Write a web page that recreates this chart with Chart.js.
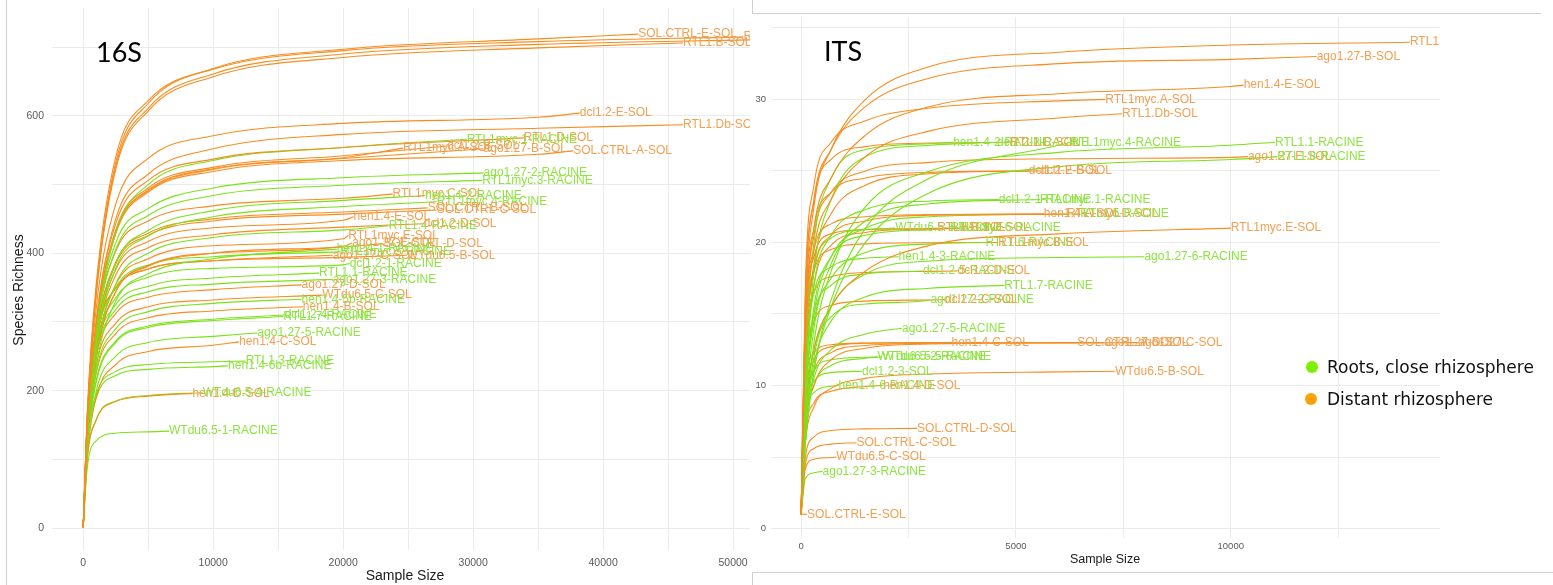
<!DOCTYPE html>
<html>
<head>
<meta charset="utf-8">
<script src="https://cdn.jsdelivr.net/npm/chart.js@4/dist/chart.umd.min.js"></script>
<style>
  body { margin: 0; background: #fff; width: 1553px; height: 585px; overflow: hidden; position: relative;
         font-family: "Liberation Sans", Arial, sans-serif; }
  canvas { position: absolute; top: 0; }
  #c16 { left: 0; }
  #cits { left: 752px; }
  .t { position: absolute; white-space: nowrap; color: #1a1a1a; }
  .panel-title { font-family: Lato, "Open Sans", sans-serif; font-size: 27px; color: #000; }
  .dot { position: absolute; width: 12px; height: 12px; border-radius: 50%; }
  .legend { font-family: "DejaVu Sans", sans-serif; font-size: 17px; color: #111; }
  .frame { position: absolute; border: 0 solid #cfcfcf; }
</style>
</head>
<body>
<canvas id="c16" width="750" height="585"></canvas>
<canvas id="cits" width="801" height="585"></canvas>

<div class="frame" style="left:6px;top:0;width:0;height:585px;border-left-width:1px"></div>
<div class="frame" style="left:752px;top:-1px;width:788px;height:14px;border-left-width:1px;border-bottom-width:1px"></div>
<div class="frame" style="left:752px;top:572px;width:801px;height:20px;border-left-width:1px;border-top-width:1px"></div>

<div class="t panel-title" style="left:96px;top:35px">16S</div>
<div class="t panel-title" style="left:824px;top:34px">ITS</div>

<div class="t" style="left:405px;top:575px;font-size:14px;transform:translate(-50%,-50%)">Sample Size</div>
<div class="t" style="left:18px;top:290px;font-size:14px;transform:translate(-50%,-50%) rotate(-90deg)">Species Richness</div>
<div class="t" style="left:1105px;top:559px;font-size:12.5px;transform:translate(-50%,-50%)">Sample Size</div>

<div class="dot" style="left:1306px;top:361px;background:#7cf000"></div>
<div class="t legend" style="left:1327px;top:367px;transform:translateY(-50%)">Roots, close rhizosphere</div>
<div class="dot" style="left:1305px;top:393px;background:#ffa200"></div>
<div class="t legend" style="left:1327px;top:399px;transform:translateY(-50%)">Distant rhizosphere</div>

<script>
// ---- 16S rarefaction curves ----
// richness values are read at these sample sizes, the last value of each row is at the sample's own depth
const grid16 = [1, 300, 1000, 2500, 5000, 10000, 20000, 35000];
const names16 = [
  "SOL.CTRL-E-SOL", "RTL1.C-SOL", "RTL1.B-SOL", "RTL1.A-SOL", "dcl1.2-E-SOL", "RTL1.Db-SOL",
  "RTL1.D-SOL", "RTL1myc.1-RACINE", "RTL1myc.A-SOL", "dcl1.2-B-SOL", "ago1.27-B-SOL", "SOL.CTRL-A-SOL",
  "ago1.27-2-RACINE", "RTL1myc.3-RACINE", "RTL1myc.C-SOL", "hen1.4-2-RACINE", "RTL1myc.4-RACINE",
  "SOL.CTRL-C-SOL", "SOL.CTRL-B-SOL", "hen1.4-E-SOL", "RTL1.4-RACINE", "dcl1.2-D-SOL", "RTL1myc.E-SOL",
  "SOL.CTRL-D-SOL", "ago1.27-E-SOL", "hen1.4-1-RACINE", "RTL1myc.5-RACINE", "ago1.27-C-SOL",
  "WTdu6.5-B-SOL", "dcl1.2-1-RACINE", "RTL1.1-RACINE", "ago1.27-3-RACINE", "ago1.27-D-SOL",
  "WTdu6.5-C-SOL", "hen1.4-5b-RACINE", "hen1.4-B-SOL", "RTL1.7-RACINE", "dcl1.2-4-RACINE",
  "ago1.27-5-RACINE", "hen1.4-C-SOL", "RTL1.3-RACINE", "hen1.4-6b-RACINE", "hen1.4-D-SOL",
  "WTdu6.5-4-RACINE", "WTdu6.5-1-RACINE"
];
const group16 = [
  "S", "S", "S", "S", "S", "S",
  "S", "R", "S", "S", "S", "S",
  "R", "R", "S", "R", "R",
  "S", "S", "S", "R", "S", "S",
  "S", "S", "R", "R", "S",
  "S", "R", "R", "R", "S",
  "S", "R", "S", "R", "R",
  "R", "S", "R", "R", "S",
  "R", "R"
];
const depth16 = [
  42700, 50800, 46150, 52500, 38200, 46150,
  33900, 29500, 24600, 28000, 30800, 37700,
  30800, 30700, 23800, 26300, 27200,
  27200, 26500, 20800, 23500, 26200, 20400,
  23100, 20700, 19500, 19800, 19200,
  24900, 20500, 18150, 19200, 16800,
  18400, 16800, 16900, 15400, 15500,
  13400, 12000, 12500, 11150, 8400,
  9200, 6600
];
const rich16 = [
  [1, 158, 345, 532, 618, 669, 697, 712, 719],
  [1, 165, 355, 540, 622, 668, 695, 708, 715],
  [1, 155, 339, 522, 607, 657, 685, 699, 706],
  [1, 156, 341, 526, 611, 661, 690, 704, 711],
  [1, 151, 320, 471, 538, 571, 589, 598, 604],
  [1, 140, 300, 450, 515, 552, 573, 582, 587],
  [1, 142, 301, 443, 506, 537, 554, 568],
  [1, 130, 285, 430, 500, 535, 554, 566],
  [1, 138, 293, 431, 492, 523, 539, 553],
  [1, 139, 295, 434, 495, 525, 542, 556],
  [1, 138, 293, 431, 491, 522, 538, 552],
  [1, 137, 291, 428, 489, 519, 535, 544, 549],
  [1, 140, 290, 415, 465, 495, 510, 517],
  [1, 135, 282, 405, 455, 484, 499, 506],
  [1, 146, 292, 403, 447, 469, 480, 486],
  [1, 130, 270, 385, 433, 462, 477, 484],
  [1, 128, 265, 378, 425, 453, 468, 475],
  [1, 139, 278, 384, 426, 447, 457, 463],
  [1, 140, 280, 387, 429, 450, 460, 466],
  [1, 136, 272, 376, 417, 437, 448, 453],
  [1, 120, 250, 355, 400, 423, 434, 440],
  [1, 133, 266, 368, 408, 427, 438, 443],
  [1, 128, 256, 354, 392, 411, 421, 426],
  [1, 124, 248, 344, 381, 400, 409, 414],
  [1, 125, 249, 344, 382, 400, 410, 415],
  [1, 115, 235, 330, 370, 392, 406],
  [1, 140, 270, 350, 383, 395, 402],
  [1, 151, 278, 349, 377, 389, 397],
  [1, 151, 278, 349, 377, 389, 394, 397],
  [1, 135, 262, 335, 365, 378, 383, 385],
  [1, 130, 255, 325, 352, 364, 371],
  [1, 128, 250, 318, 344, 355, 362],
  [1, 135, 248, 312, 336, 347, 354],
  [1, 129, 237, 298, 322, 332, 339],
  [1, 120, 228, 290, 315, 327, 333],
  [1, 122, 225, 283, 306, 316, 322],
  [1, 115, 212, 270, 292, 302, 308],
  [1, 118, 215, 272, 294, 304, 310],
  [1, 108, 199, 250, 270, 279, 284],
  [1, 103, 190, 238, 257, 266, 271],
  [1, 122, 194, 228, 238, 242, 243],
  [1, 118, 189, 222, 231, 235, 236],
  [1, 98, 157, 184, 192, 196],
  [1, 99, 158, 185, 193, 197],
  [1, 85, 127, 138, 140, 141]
];
const xGrid16 = [0, 5000, 10000, 15000, 20000, 25000, 30000, 35000, 40000, 45000, 50000];
const xTicks16 = [0, 10000, 20000, 30000, 40000, 50000];
const yGrid16 = [0, 100, 200, 300, 400, 500, 600, 700];
const yTicks16 = [0, 200, 400, 600];

// ---- ITS rarefaction curves ----
const gridITS = [1, 100, 300, 700, 1500, 3000, 6000, 10000];
const namesITS = [
  "RTL1.A-SOL", "ago1.27-B-SOL", "hen1.4-E-SOL", "RTL1myc.A-SOL", "RTL1.Db-SOL",
  "RTL1.1-RACINE", "hen1.4-2-RACINE", "dcl1.2-2-RACINE", "RTL1.C-SOL", "RTL1myc.4-RACINE",
  "ago1.27-E-SOL", "RTL1.8-RACINE", "dcl1.2-E-SOL", "dcl1.2-B-SOL", "dcl1.2-1-RACINE",
  "RTL1myc.1-RACINE", "hen1.4-A-SOL", "RTL1myc.D-SOL", "RTL1.5-RACINE", "RTL1myc.E-SOL",
  "WTdu6.5-3-RACINE", "RTL1.E-SOL", "RTL1.D-SOL", "RTL1myc.6-RACINE", "RTL1.6-RACINE",
  "RTL1myc.B-SOL", "hen1.4-3-RACINE", "ago1.27-6-RACINE", "dcl1.2-5-RACINE", "dcl1.2-D-SOL",
  "RTL1.7-RACINE", "ago1.27-2-RACINE", "dcl1.2-C-SOL", "ago1.27-5-RACINE", "hen1.4-C-SOL",
  "SOL.CTRL-A-SOL", "ago1.27-D-SOL", "ago1.27-C-SOL", "WTdu6.5-2-RACINE", "WTdu6.5-5-RACINE",
  "dcl1.2-3-SOL", "WTdu6.5-B-SOL", "hen1.4-6-RACINE", "hen1.4-D-SOL", "SOL.CTRL-D-SOL",
  "SOL.CTRL-C-SOL", "WTdu6.5-C-SOL", "ago1.27-3-RACINE", "SOL.CTRL-E-SOL"
];
const groupITS = [
  "S", "S", "S", "S", "S",
  "R", "R", "R", "S", "R",
  "S", "R", "S", "S", "R",
  "R", "S", "S", "R", "S",
  "R", "S", "S", "R", "R",
  "S", "R", "R", "R", "S",
  "R", "R", "S", "R", "S",
  "S", "S", "S", "R", "R",
  "R", "S", "R", "S", "S",
  "S", "S", "R", "S"
];
const depthITS = [
  14170, 12000, 10300, 7080, 7470,
  11030, 3540, 4560, 4870, 6270,
  10400, 11080, 5300, 5560, 4600,
  5560, 5650, 6190, 6500, 10000,
  2190, 3170, 3710, 3470, 4290,
  4590, 2270, 7990, 2840, 3640,
  4730, 3010, 3350, 2350, 3500,
  6430, 7060, 7850, 1780, 1890,
  1420, 7310, 870, 1910, 2700,
  1290, 820, 500, 140
];
const richITS = [
  [1, 15, 22.5, 26.5, 30, 32.3, 33.3, 33.8, 34],
  [1, 16, 23, 26.5, 29.5, 31.5, 32.5, 32.8, 33],
  [1, 14, 21, 24.5, 27.5, 29.5, 30.4, 30.9, 31],
  [1, 17, 24, 27, 28.5, 29.4, 29.9, 30],
  [1, 13, 19.5, 23, 26, 27.8, 28.7, 29],
  [1, 7, 13, 18, 22.5, 25, 26.3, 26.8, 27],
  [1, 12, 20, 24.5, 26.5, 26.9, 27],
  [1, 10, 18, 23, 26, 26.8, 27],
  [1, 16, 23, 25.8, 26.7, 26.95, 27],
  [1, 6, 11, 16, 21, 24.5, 26.8, 27],
  [1, 14, 20.5, 23.5, 25, 25.6, 25.85, 25.95, 26],
  [1, 6, 11, 15.5, 20, 23.5, 25.3, 25.8, 26],
  [1, 15, 21, 23.5, 24.5, 24.9, 25],
  [1, 12, 18.5, 22, 24, 24.8, 25],
  [1, 10, 17, 20.5, 22.3, 22.9, 23],
  [1, 8, 14, 18.5, 21.5, 22.7, 23],
  [1, 14, 19.5, 21.3, 21.8, 21.95, 22],
  [1, 12, 18, 20.5, 21.5, 21.9, 21.98, 22],
  [1, 9, 15, 19, 21, 21.8, 21.97, 22],
  [1, 8, 12.5, 15.5, 18, 19.8, 20.6, 21],
  [1, 12, 18, 20.3, 20.9, 21],
  [1, 14, 19, 20.6, 20.9, 20.98, 21],
  [1, 11, 17, 19.8, 20.7, 20.95, 21],
  [1, 9, 15.5, 19, 20.5, 20.9, 21],
  [1, 9, 14.5, 17.5, 19.3, 19.9, 20],
  [1, 13, 18, 19.5, 19.9, 19.98, 20],
  [1, 11, 16.5, 18.3, 18.9, 19],
  [1, 7, 12, 15.5, 17.8, 18.7, 18.95, 19],
  [1, 10, 15, 17, 17.8, 18],
  [1, 12, 16.5, 17.6, 17.9, 17.98, 18],
  [1, 7, 11.5, 14.5, 16.2, 16.8, 17],
  [1, 8, 12.5, 14.8, 15.7, 15.98, 16],
  [1, 11, 14.5, 15.6, 15.9, 15.98, 16],
  [1, 7, 10.5, 12.5, 13.6, 14],
  [1, 10, 12.3, 12.85, 12.97, 13, 13],
  [1, 9, 11.8, 12.7, 12.95, 12.99, 13, 13],
  [1, 8, 11, 12.3, 12.8, 12.95, 13, 13],
  [1, 7, 10, 11.8, 12.6, 12.9, 12.98, 13],
  [1, 8.5, 11, 11.8, 11.97, 12],
  [1, 7, 10, 11.4, 11.9, 12],
  [1, 8, 10.3, 10.9, 11],
  [1, 6, 8.5, 9.8, 10.5, 10.8, 10.95, 11],
  [1, 7.5, 9.5, 9.95, 10],
  [1, 6.5, 8.8, 9.6, 9.93, 10],
  [1, 5, 6.4, 6.85, 6.97, 7],
  [1, 4.5, 5.6, 5.9, 6],
  [1, 4.2, 4.85, 4.97, 5],
  [1, 3.5, 3.9, 4],
  [1, 1, 1]
];
const xGridITS = [0, 2500, 5000, 7500, 10000, 12500];
const xTicksITS = [0, 5000, 10000];
const yGridITS = [0, 5, 10, 15, 20, 25, 30, 35];
const yTicksITS = [0, 10, 20, 30];

const colours = {
  R: { line: "rgb(122,226,22)", text: "rgb(142,228,64)" },
  S: { line: "rgb(248,140,30)", text: "rgb(242,160,82)" }
};

function buildSets(names, groups, depths, rich, grid) {
  return names.map((name, i) => {
    const vals = rich[i];
    const pts = vals.map((v, k) => ({ x: k === vals.length - 1 ? depths[i] : grid[k], y: v }));
    const c = colours[groups[i]];
    return {
      label: name, data: pts, borderColor: c.line, labelColor: c.text,
      borderWidth: 1.1, pointRadius: 0, fill: false, cubicInterpolationMode: "monotone"
    };
  });
}

// sample name written at the end of every curve
const endLabels = {
  id: "endLabels",
  afterDatasetsDraw(chart, args, opts) {
    const { ctx, chartArea: a } = chart;
    ctx.save();
    ctx.beginPath();
    ctx.rect(a.left, a.top, a.right - a.left, a.bottom - a.top);
    ctx.clip();
    ctx.font = opts.font;
    ctx.textBaseline = "middle";
    ctx.textAlign = "left";
    chart.data.datasets.forEach((ds, i) => {
      const pts = chart.getDatasetMeta(i).data;
      const p = pts[pts.length - 1];
      ctx.fillStyle = ds.labelColor;
      ctx.fillText(ds.label, p.x, p.y);
    });
    ctx.restore();
  }
};

function axis(min, max, gridVals, tickVals, width, height, pad, size) {
  return {
    type: "linear", min, max,
    afterBuildTicks: s => { s.ticks = gridVals.map(v => ({ value: v })); },
    afterFit: s => {
      if (width) s.width = width;
      if (height) s.height = height;
      // keep the plot box exactly where the layout padding puts it
      s.paddingTop = s.paddingBottom = s.paddingLeft = s.paddingRight = 0;
    },
    grid: { color: "#ebebeb", lineWidth: 1, drawTicks: false },
    border: { display: false },
    ticks: {
      autoSkip: false, maxRotation: 0, padding: pad, color: "#5a5a5a",
      font: { family: "Liberation Sans", size },
      callback: v => tickVals.includes(v) ? String(v) : ""
    }
  };
}

function makeChart(id, sets, x, y, padding, labelFont) {
  return new Chart(document.getElementById(id), {
    type: "line",
    data: { datasets: sets },
    options: {
      responsive: false, animation: false, events: [],
      layout: { padding },
      scales: { x, y },
      plugins: { legend: { display: false }, tooltip: { enabled: false }, endLabels: { font: labelFont } }
    },
    plugins: [endLabels]
  });
}

makeChart("c16",
  buildSets(names16, group16, depth16, rich16, grid16),
  axis(-2400, 51300, xGrid16, xTicks16, 0, 35, 7, 10.5),
  axis(-32, 757, yGrid16, yTicks16, 52, 0, 8, 10.5),
  { top: 8, left: 0, right: 0, bottom: 0 },
  "12px 'Liberation Sans', Arial, sans-serif");

makeChart("cits",
  buildSets(namesITS, groupITS, depthITS, richITS, gridITS),
  axis(-700, 14870, xGridITS, xTicksITS, 0, 47, 3, 9.5),
  axis(-0.66, 35.76, yGridITS, yTicksITS, 19, 0, 5, 9.5),
  { top: 17, left: 0, right: 113, bottom: 0 },
  "12px 'Liberation Sans', Arial, sans-serif");
</script>
</body>
</html>
